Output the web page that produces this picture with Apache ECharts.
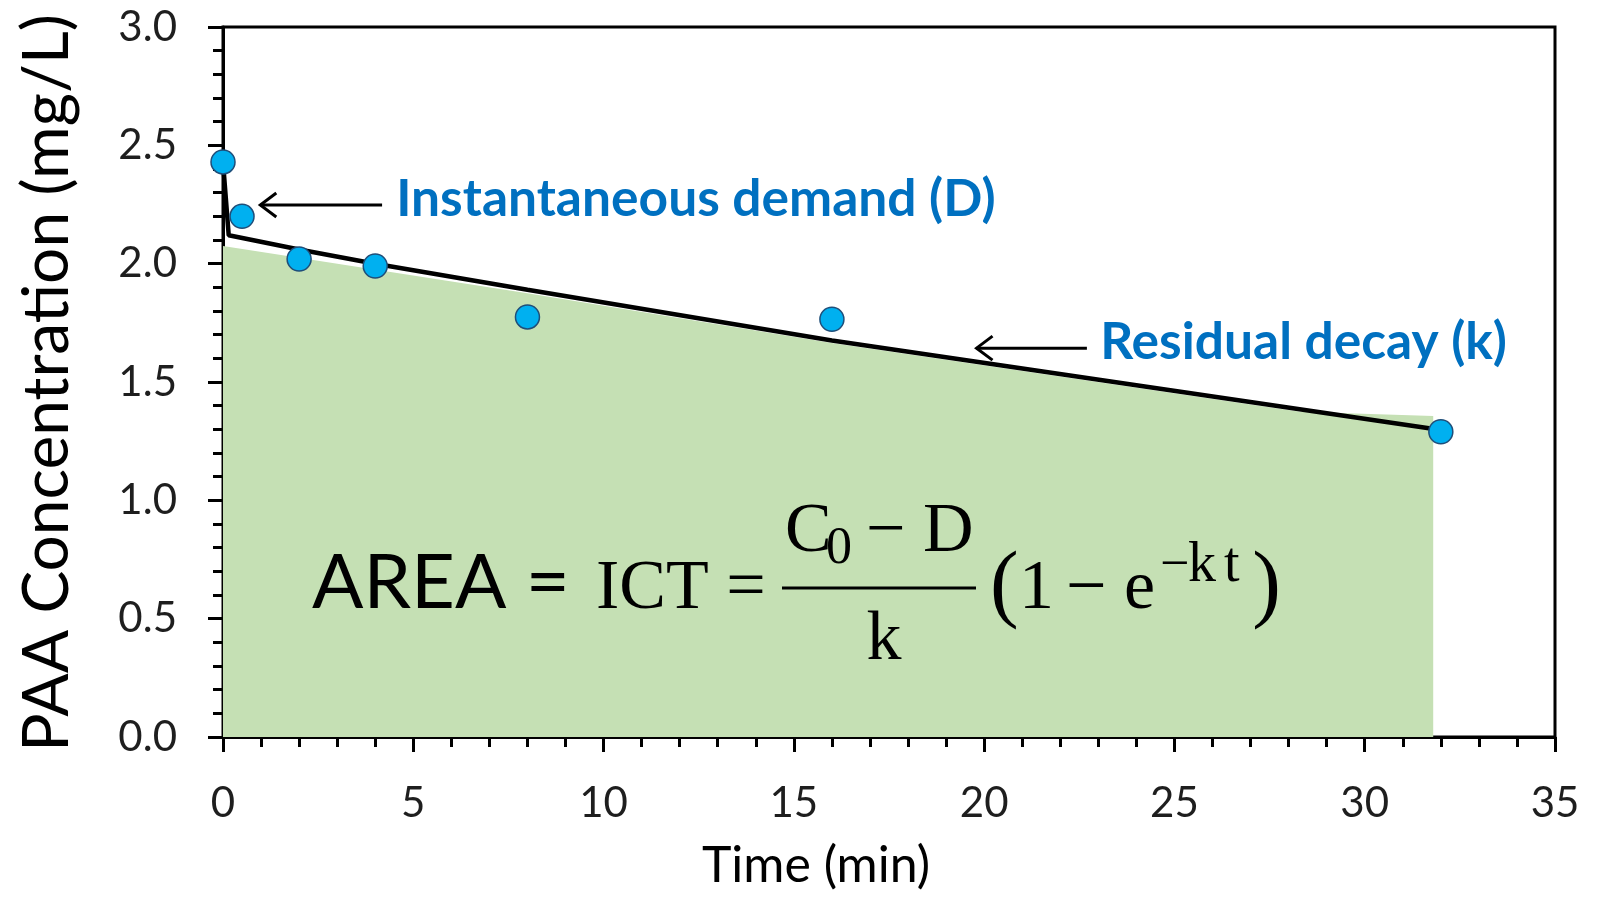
<!DOCTYPE html>
<html>
<head>
<meta charset="utf-8">
<script src="https://cdn.jsdelivr.net/npm/echarts@6/dist/echarts.min.js"></script>
<style>
  html, body { margin: 0; padding: 0; background: #fff; }
  #main { width: 1603px; height: 897px; }
</style>
</head>
<body>
<div id="main"></div>
<script>
// Measured PAA concentration over time
const timeMin = [0, 0.5, 2, 4, 8, 16, 32];
const paaMeasured = [2.43, 2.20, 2.02, 1.99, 1.775, 1.765, 1.29];

// Fitted curve: instantaneous demand followed by first-order residual decay
const fitTime = [0, 0.15, 2, 4, 8, 16, 32];
const fitPAA = [2.43, 2.12, 2.06, 2.00, 1.89, 1.675, 1.297];

// Shaded exposure area (integrated CT)
const areaTime = [0, 8, 16, 28.3, 31.8];
const areaTop = [2.075, 1.875, 1.665, 1.374, 1.356];

// Axis ranges and tick steps
const xRange = [0, 35], xStep = 5;
const yRange = [0, 3], yStep = 0.5;

// Annotation anchors in data units: arrow tip, arrow tail, label start
const demandNote = { text: 'Instantaneous demand (D)', tip: [0.98, 2.248], tail: [4.18, 2.248], label: [4.55, 2.27] };
const decayNote = { text: 'Residual decay (k)', tip: [19.8, 1.643], tail: [22.7, 1.643], label: [23.05, 1.668] };

const pair = (xs, ys) => xs.map((x, i) => [x, ys[i]]);

const SANS = 'Lato, "Open Sans", sans-serif';
const SERIF = '"Liberation Serif", "DejaVu Serif", serif';
const BLUE = '#0070c0';

const chart = echarts.init(document.getElementById('main'), null, { renderer: 'canvas' });

const axisCommon = {
  axisLine: { show: true, onZero: false, lineStyle: { color: '#000', width: 3 } },
  axisTick: { show: true, inside: false, length: 15, lineStyle: { color: '#000', width: 3 } },
  minorTick: { show: true, splitNumber: 5, length: 10, lineStyle: { color: '#000', width: 3 } },
  splitLine: { show: false },
  minorSplitLine: { show: false },
};

chart.setOption({
  animation: false,
  backgroundColor: '#fff',
  grid: { left: 223, right: 48, top: 27, bottom: 160, show: true, borderColor: '#000', borderWidth: 3, backgroundColor: 'transparent' },
  xAxis: Object.assign({
    type: 'value', min: xRange[0], max: xRange[1], interval: xStep,
    axisLabel: { margin: 45, fontFamily: SANS, fontSize: 42, color: '#1e1e1e' },
  }, axisCommon),
  yAxis: Object.assign({
    type: 'value', min: yRange[0], max: yRange[1], interval: yStep,
    axisLabel: { margin: 46, fontFamily: SANS, fontSize: 42, color: '#1e1e1e', formatter: v => v.toFixed(1) },
  }, axisCommon),
  series: [
    {
      name: 'ICT area', type: 'line', data: pair(areaTime, areaTop), symbol: 'none', z: 1,
      lineStyle: { width: 0, opacity: 0 }, areaStyle: { color: '#c5e0b4', opacity: 1 },
    },
    {
      name: 'Model', type: 'line', data: pair(fitTime, fitPAA), symbol: 'none', z: 3,
      lineStyle: { color: '#000', width: 4.5 },
    },
    {
      name: 'Measured', type: 'scatter', data: pair(timeMin, paaMeasured), symbol: 'circle', symbolSize: 24, z: 4,
      itemStyle: { color: '#00b0f0', borderColor: '#1f4e79', borderWidth: 1.5, opacity: 1 },
    },
  ],
});

// Arrow with an open chevron head pointing at `tip`
function arrow(note) {
  const t = chart.convertToPixel({ gridIndex: 0 }, note.tip);
  const e = chart.convertToPixel({ gridIndex: 0 }, note.tail);
  const l = chart.convertToPixel({ gridIndex: 0 }, note.label);
  return [
    { type: 'line', shape: { x1: t[0], y1: t[1], x2: e[0], y2: e[1] }, style: { stroke: '#000', lineWidth: 3 } },
    { type: 'polyline', shape: { points: [[t[0] + 16, t[1] - 12], [t[0], t[1]], [t[0] + 16, t[1] + 12]] }, style: { stroke: '#000', lineWidth: 3, fill: null } },
    { type: 'text', x: l[0], y: l[1], style: { text: note.text, fontFamily: SANS, fontWeight: 'bold', fontSize: 51.5, fill: BLUE, align: 'left', verticalAlign: 'middle' } },
  ];
}

// Text helper for the expression pieces
function term(text, x, y, size, family, align) {
  return { type: 'text', x: x, y: y, style: { text: text, fontFamily: family || SERIF, fontSize: size, fill: '#000', align: align || 'left', verticalAlign: 'middle' } };
}

// ICT expression written over the shaded area
const formula = [
  term('AREA =', 312, 583, 76, SANS),
  term('ICT =', 596, 590, 70),
  term('C', 785, 533, 70),
  term('0', 826, 549, 52),
  term('− D', 866, 533, 70),
  { type: 'line', shape: { x1: 782, y1: 588, x2: 976, y2: 588 }, style: { stroke: '#000', lineWidth: 3 } },
  term('k', 884, 641, 70, SERIF, 'center'),
  term('(', 990, 588, 86),
  term('1', 1019, 590, 70),
  term('−', 1066, 590, 72),
  term('e', 1124, 590, 70),
  term('−', 1160, 566, 52),
  term('k', 1188, 566, 56),
  term('t', 1224, 566, 56),
  term(')', 1281, 588, 86, SERIF, 'right'),
];

const titles = [
  { type: 'text', x: 816, y: 866, style: { text: 'Time (min)', fontFamily: SANS, fontSize: 50, fill: '#000', align: 'center', verticalAlign: 'middle' } },
  { type: 'text', x: 47, y: 383, rotation: Math.PI / 2, style: { text: 'PAA Concentration (mg/L)', fontFamily: SANS, fontSize: 64, fill: '#000', align: 'center', verticalAlign: 'middle' } },
];

// Overlay elements sit above the series
const overlay = [].concat(arrow(demandNote), arrow(decayNote), formula, titles)
  .map(el => Object.assign({ z: 100 }, el));
chart.setOption({ graphic: { elements: overlay } });
</script>
</body>
</html>
